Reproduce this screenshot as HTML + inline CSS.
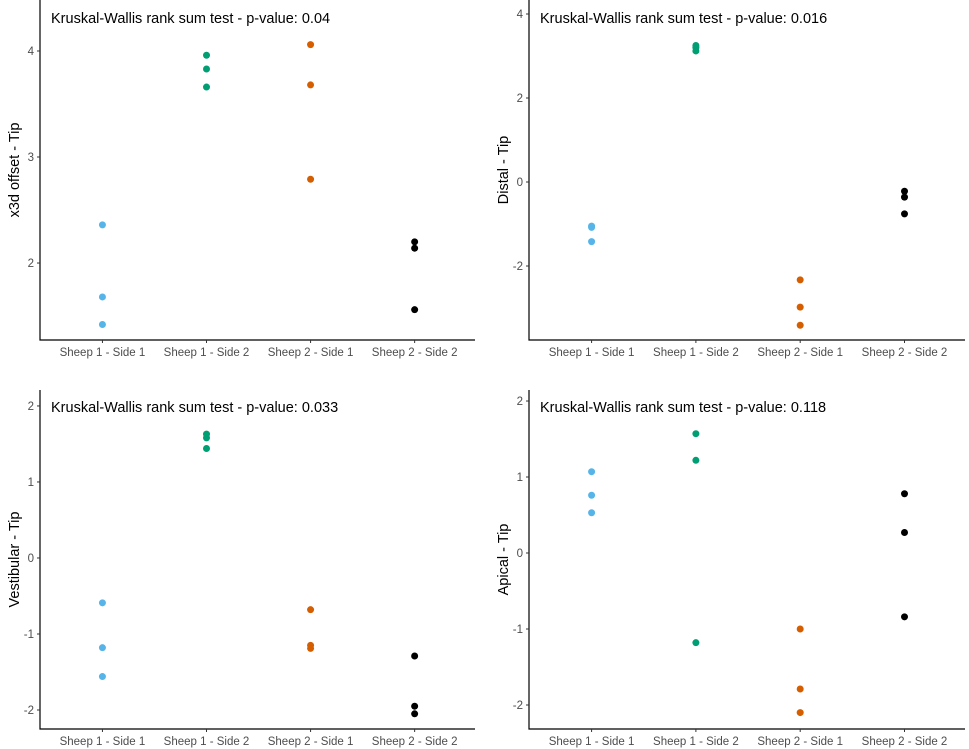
<!DOCTYPE html>
<html><head><meta charset="utf-8"><style>
body{margin:0;background:#fff;}
svg{display:block;font-family:"Liberation Sans",Arial,sans-serif;}
</style></head><body>
<svg id="chart" width="969" height="749" viewBox="0 0 969 749"></svg>
<script>
const categories = ["Sheep 1 - Side 1","Sheep 1 - Side 2","Sheep 2 - Side 1","Sheep 2 - Side 2"];
const colors = ["#56B4E9","#009E73","#D55E00","#000000"];
const titles = ["Kruskal-Wallis rank sum test - p-value: 0.04","Kruskal-Wallis rank sum test - p-value: 0.016","Kruskal-Wallis rank sum test - p-value: 0.033","Kruskal-Wallis rank sum test - p-value: 0.118"];
const yTitles = ["x3d offset - Tip","Distal - Tip","Vestibular - Tip","Apical - Tip"];
const ticks1 = [2,3,4];
const ticks2 = [-2,0,2,4];
const ticks3 = [-2,-1,0,1,2];
const ticks4 = [-2,-1,0,1,2];
const vals1 = [[2.36,1.68,1.42],[3.96,3.83,3.66],[4.06,3.68,2.79],[2.20,2.14,1.56]];
const vals2 = [[-1.05,-1.08,-1.42],[3.25,3.20,3.12],[-2.33,-2.98,-3.41],[-0.22,-0.36,-0.76]];
const vals3 = [[-0.59,-1.18,-1.56],[1.63,1.58,1.44],[-0.68,-1.15,-1.19],[-1.29,-1.95,-2.05]];
const vals4 = [[1.07,0.76,0.53],[1.57,1.22,-1.18],[-1.0,-1.79,-2.1],[0.78,0.27,-0.84]];
const domains = [[1.274,4.481],[-3.762,4.333],[-2.25,2.21],[-2.316,2.145]];

const panels = [
 {x0:40,x1:475,y0:0,y1:340,vals:vals1,ticks:ticks1},
 {x0:529,x1:965,y0:0,y1:340,vals:vals2,ticks:ticks2},
 {x0:40,x1:475,y0:390,y1:729,vals:vals3,ticks:ticks3},
 {x0:529,x1:965,y0:390,y1:729,vals:vals4,ticks:ticks4}
];
const NS="http://www.w3.org/2000/svg";
const svg=document.getElementById('chart');
function mk(tag,attrs,parent){const e=document.createElementNS(NS,tag);for(const k in attrs)e.setAttribute(k,attrs[k]);(parent||svg).appendChild(e);return e;}
panels.forEach((p,i)=>{
  const g=mk('g',{});
  
  
  const [dmin,dmax]=domains[i];
  const yS=v=>p.y1-(v-dmin)/(dmax-dmin)*(p.y1-p.y0);
  const step=(p.x1-p.x0)/4.18;
  const xS=c=>p.x0+step*(c+0.6);
  const ax=mk('path',{d:`M${p.x0} ${p.y0}V${p.y1}H${p.x1}`,fill:'none',stroke:'#000','stroke-width':1.2},g);
  
  
  p.ticks.forEach(t=>{
    const y=yS(t);
    mk('line',{x1:p.x0-3,x2:p.x0,y1:y,y2:y,stroke:'#333'},g);
    const tl=mk('text',{x:p.x0-6,y:y+4,'text-anchor':'end','font-size':11.5,fill:'#4d4d4d'},g);
    tl.textContent=t;
    
    
  });
  categories.forEach((c,ci)=>{
    const x=xS(ci);
    mk('line',{x1:x,x2:x,y1:p.y1,y2:p.y1+3,stroke:'#333'},g);
    const cl=mk('text',{x:x,y:p.y1+16,'text-anchor':'middle','font-size':11.5,fill:'#4d4d4d'},g);
    cl.textContent=c;
    
    
    p.vals[ci].forEach(v=>{
      const pt=mk('circle',{cx:x,cy:yS(v),r:3.5,fill:colors[ci]},g);
      
      
    });
  });
  const t=mk('text',{x:p.x0+11,y:p.y0+(i<2?23:41),'font-size':14.5,fill:'#000'},g);
  t.setAttribute('y', i<2 ? 23 : 412);
  t.textContent=titles[i];
  
  
  const cy=(p.y0+p.y1)/2;
  const yt=mk('text',{x:0,y:0,'font-size':14.5,fill:'#000','text-anchor':'middle',transform:`translate(${p.x0-21},${cy}) rotate(-90)`},g);
  yt.textContent=yTitles[i];
  
  
});
</script>
</body></html>
